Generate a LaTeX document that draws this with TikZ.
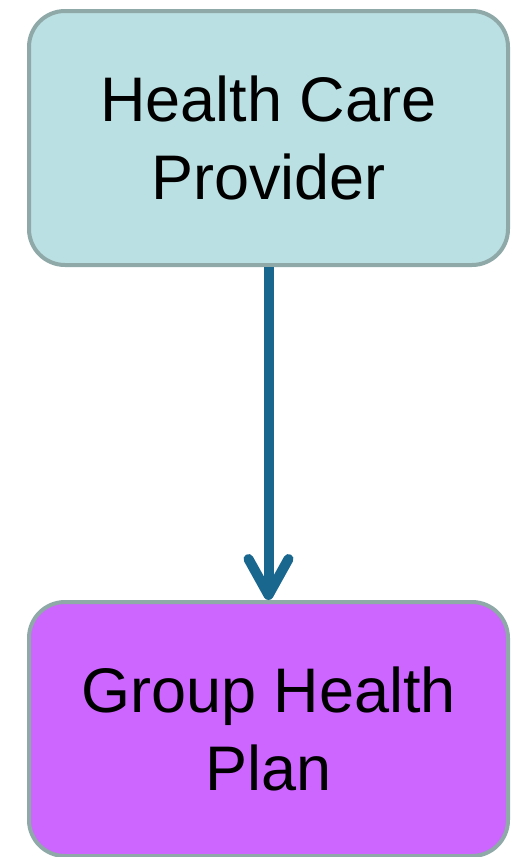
\documentclass[tikz,border=0pt]{standalone}
\usepackage{fontspec}
\setmainfont{Liberation Sans}
\usetikzlibrary{arrows.meta}
\definecolor{topfill}{HTML}{BBE0E3}
\definecolor{botfill}{HTML}{CC66FF}
\definecolor{edgegray}{HTML}{8FA8A8}
\definecolor{arrowblue}{HTML}{19668F}
\tikzset{
  box/.style={draw=edgegray, line width=4pt, rounded corners=36pt,
    minimum width=479pt, minimum height=254pt, align=center,
    font=\fontsize{63}{78}\selectfont, text=black, inner sep=0pt},
  flow/.style={draw=arrowblue, line width=10pt,
    -{Straight Barb[length=36pt, width=40pt, round, line width=10pt]}}
}
\begin{document}
\begin{tikzpicture}[x=1pt,y=-1pt]
\useasboundingbox (0,0) rectangle (518,857);
\node[box, fill=topfill] (hcp) at (268.5,138) {Health Care\\Provider};
\node[box, fill=botfill] (ghp) at (268.5,729) {Group Health\\Plan};
\draw[flow] (hcp.south) -- (ghp.north);
\end{tikzpicture}
\end{document}
